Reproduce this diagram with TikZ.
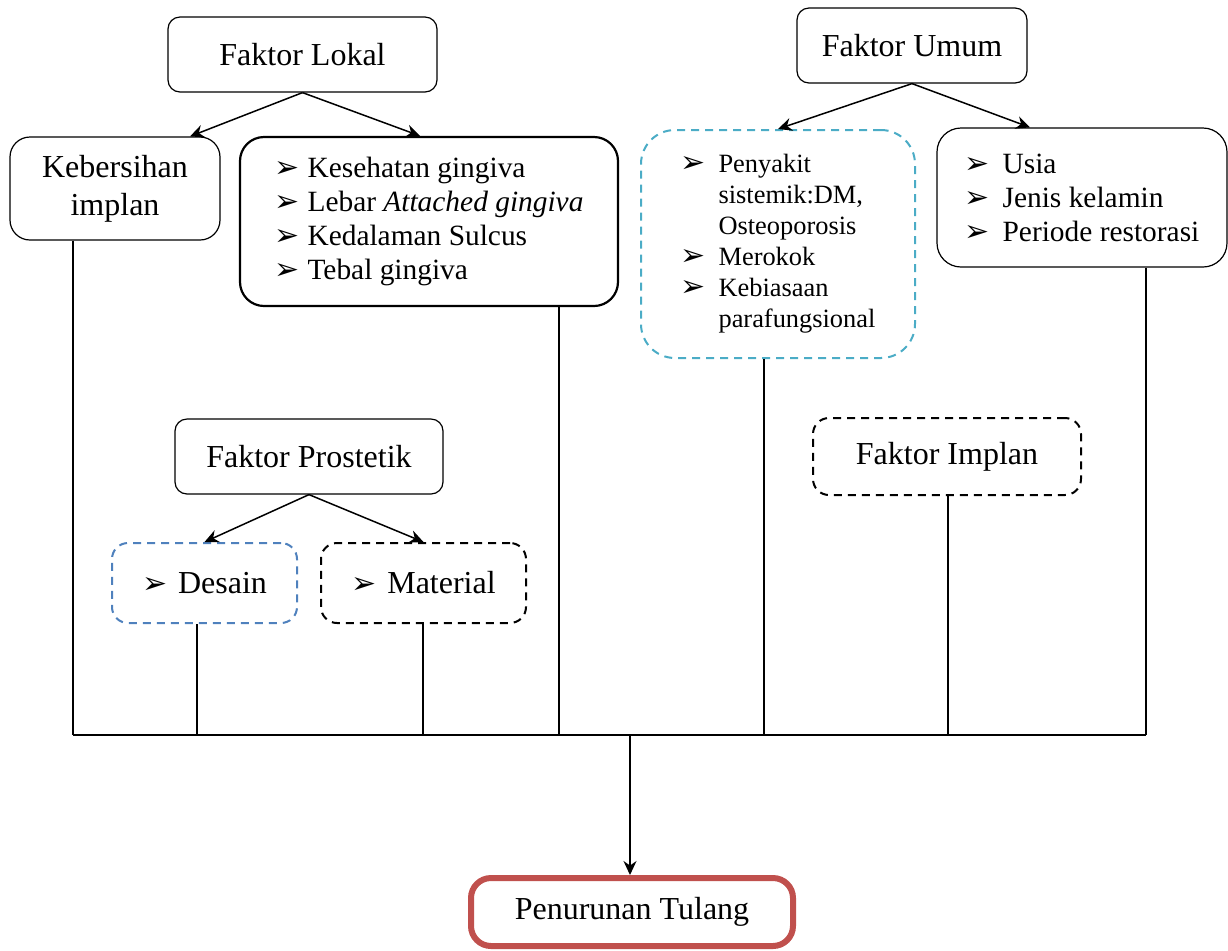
\documentclass[tikz,border=0pt]{standalone}
\usepackage{fontspec}
\setmainfont{Liberation Serif}
\newfontfamily\bulfont{DejaVu Sans}
\usepackage{tikz}
\usetikzlibrary{arrows.meta}
\usepackage{xcolor}
\definecolor{tealbox}{HTML}{4BACC6}
\definecolor{bluebox}{HTML}{4F81BD}
\definecolor{redbox}{HTML}{C0504D}
\newcommand{\bul}[1]{\makebox[#1][l]{\bulfont\fontsize{15}{15}\selectfont ➢}}

\begin{document}
\begin{tikzpicture}[x=0.5pt,y=-0.5pt,
    box/.style={draw,rounded corners=6pt,line width=0.6pt,align=center,
      font=\fontsize{16}{19}\selectfont},
    listbox/.style={draw,rounded corners=12pt,line width=0.6pt,align=left,
      font=\fontsize{14.7}{17}\selectfont},
    dashbox/.style={dash pattern=on 4pt off 3pt,line width=1pt,rounded corners=8pt},
    link/.style={line width=0.75pt},
    arr/.style={link,-{Stealth[length=7pt,width=6.5pt]}}]
        \useasboundingbox (0,0) rectangle (1228,950);
        % faktor lokal
        \node[box,minimum width=134.5pt,minimum height=37.5pt] (lokal) at (302.5,54.5) {Faktor Lokal};
        \node[box,rounded corners=10pt,minimum width=105pt,minimum height=51.5pt] (keb) at (115,188.5)
          {Kebersihan\\implan};
        \node[listbox,line width=1.1pt,minimum width=189pt,minimum height=84.5pt] (kes) at (429,221.5)
          {\bul{16.5pt}Kesehatan gingiva\\
           \bul{16.5pt}Lebar \textit{Attached gingiva}\\
           \bul{16.5pt}Kedalaman Sulcus\\
           \bul{16.5pt}Tebal gingiva};
        % faktor umum
        \node[box,minimum width=115pt,minimum height=37.5pt] (umum) at (912,45.5) {Faktor Umum};
        \node[listbox,dashbox,draw=tealbox,rounded corners=17pt,minimum width=137pt,minimum height=114pt,
          font=\fontsize{13.2}{15.5}\selectfont] (peny) at (778,244)
          {\bul{19pt}Penyakit\\
           \hspace*{19pt}sistemik:DM,\\
           \hspace*{19pt}Osteoporosis\\
           \bul{19pt}Merokok\\
           \bul{19pt}Kebiasaan\\
           \hspace*{19pt}parafungsional};
        \node[listbox,minimum width=145pt,minimum height=69.5pt] (usia) at (1082,197.5)
          {\bul{19pt}Usia\\
           \bul{19pt}Jenis kelamin\\
           \bul{19pt}Periode restorasi};
        % faktor prostetik and implan
        \node[box,minimum width=134pt,minimum height=37.5pt] (pros) at (309,456.5) {Faktor Prostetik};
        \node[box,dashbox,draw=bluebox,minimum width=92.5pt,minimum height=40pt] (desain) at (204.5,583)
          {\bul{18pt}Desain};
        \node[box,dashbox,minimum width=102.5pt,minimum height=40pt] (mat) at (423.5,583)
          {\bul{18pt}Material};
        \node[box,dashbox,minimum width=134pt,minimum height=38.5pt] (impl) at (947,456.5) {Faktor Implan};
        % result
        \node[box,draw=redbox,line width=3pt,rounded corners=10pt,minimum width=161pt,minimum height=34pt]
          (turun) at (632,912) {Penurunan Tulang};
        % branches
        \draw[arr] (lokal.south) -- ([xshift=37.5pt]keb.north);
        \draw[arr] (lokal.south) -- ([xshift=-4.5pt]kes.north);
        \draw[arr] (umum.south) -- (peny.north);
        \draw[arr] (umum.south) -- ([xshift=-26pt]usia.north);
        \draw[arr] (pros.south) -- (desain.north);
        \draw[arr] (pros.south) -- (mat.north);
        % collecting line
        \foreach \n/\x in {keb/73,desain/197,mat/423,kes/559,peny/764,impl/948,usia/1146}
          \coordinate (bus-\n) at (\x,735);
        \coordinate (bus-mid) at (630,735);
        \foreach \n in {keb,desain,mat,kes,peny,impl,usia}
          \draw[link] (bus-\n |- \n.south) -- (bus-\n);
        \draw[link] (bus-keb) -- (bus-usia);
        \draw[arr] (bus-mid) -- (bus-mid |- turun.north);
\end{tikzpicture}
\end{document}
